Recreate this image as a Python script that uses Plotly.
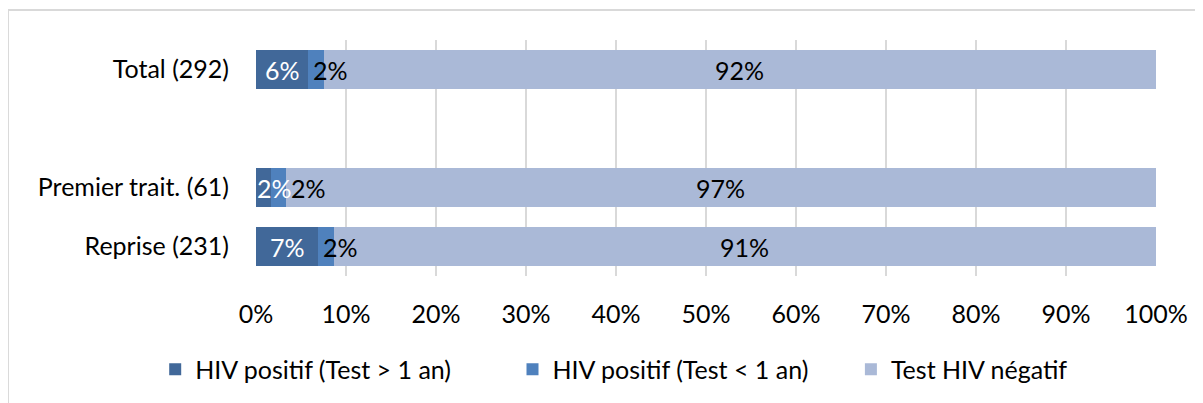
import plotly.graph_objects as go

# Catégories (la ligne vide sépare le total des sous-groupes)
categories = ["Total (292)", " ", "Premier trait. (61)", "Reprise (231)"]

# Pourcentages par série
hiv_pos_old = [5.82, None, 1.64, 6.93]   # HIV positif (Test > 1 an)
hiv_pos_new = [1.71, None, 1.64, 1.73]   # HIV positif (Test < 1 an)
hiv_neg = [92.47, None, 96.72, 91.34]    # Test HIV négatif

series_names = ["HIV positif (Test > 1 an)", "HIV positif (Test < 1 an)", "Test HIV négatif"]
colors = ["#416899", "#4f81bd", "#aab9d7"]
legend_ids = ["legend", "legend2", "legend3"]
legend_x = [-0.112, 0.285, 0.661]

x_ticks = list(range(0, 101, 10))

FONT = "Lato, 'Open Sans', sans-serif"
FS = 25

fig = go.Figure()
for name, vals, col, lg in zip(series_names, [hiv_pos_old, hiv_pos_new, hiv_neg], colors, legend_ids):
    fig.add_trace(go.Bar(
        y=categories, x=vals, name=name, orientation="h",
        marker=dict(color=col, line=dict(width=0)),
        hoverinfo="x+name", legend=lg,
    ))

# Étiquettes de données
annotations = []
for cat, a, b, c in zip(categories, hiv_pos_old, hiv_pos_new, hiv_neg):
    if a is None:
        continue
    if a < 3:
        annotations.append(dict(x=0, y=cat, text=f"{a:.0f}%", xanchor="left", xshift=-1,
                                showarrow=False, font=dict(color="white", size=FS, family=FONT)))
        annotations.append(dict(x=a + b, y=cat, text=f"{b:.0f}%", xanchor="left", xshift=3,
                                showarrow=False, font=dict(color="black", size=FS, family=FONT)))
    else:
        annotations.append(dict(x=a / 2, y=cat, text=f"{a:.0f}%", xanchor="center",
                                showarrow=False, font=dict(color="white", size=FS, family=FONT)))
        annotations.append(dict(x=a, y=cat, text=f"{b:.0f}%", xanchor="left", xshift=3,
                                showarrow=False, font=dict(color="black", size=FS, family=FONT)))
    annotations.append(dict(x=a + b + c / 2, y=cat, text=f"{c:.0f}%", xanchor="center",
                            showarrow=False, font=dict(color="black", size=FS, family=FONT)))

legend_style = dict(orientation="h", xanchor="left", y=-0.39, yanchor="middle",
                    font=dict(size=FS), itemwidth=30, bgcolor="rgba(0,0,0,0)")

fig.update_layout(
    barmode="stack",
    bargap=0.34,
    width=1195, height=395,
    margin=dict(l=248, r=47, t=32, b=126),
    paper_bgcolor="white", plot_bgcolor="white",
    font=dict(family=FONT, size=FS, color="black"),
    showlegend=True,
    legend=dict(x=legend_x[0], **legend_style),
    legend2=dict(x=legend_x[1], **legend_style),
    legend3=dict(x=legend_x[2], **legend_style),
    annotations=annotations,
    xaxis=dict(range=[0, 100], tickvals=x_ticks, ticktext=[f"{t}%" for t in x_ticks],
               showgrid=True, gridcolor="#d9d9d9", gridwidth=2, zeroline=False,
               showline=False, ticks="", ticklabelstandoff=21, fixedrange=True),
    yaxis=dict(categoryorder="array", categoryarray=categories, autorange="reversed",
               showgrid=False, showline=False, ticks="", ticklabelstandoff=26,
               fixedrange=True),
    shapes=[dict(type="rect", xref="paper", yref="paper",
                 x0=-0.2756, x1=1.07, y0=-1.2, y1=1.1266,
                 line=dict(color="#d9d9d9", width=2), layer="below")],
)

fig.write_html("out.html")
